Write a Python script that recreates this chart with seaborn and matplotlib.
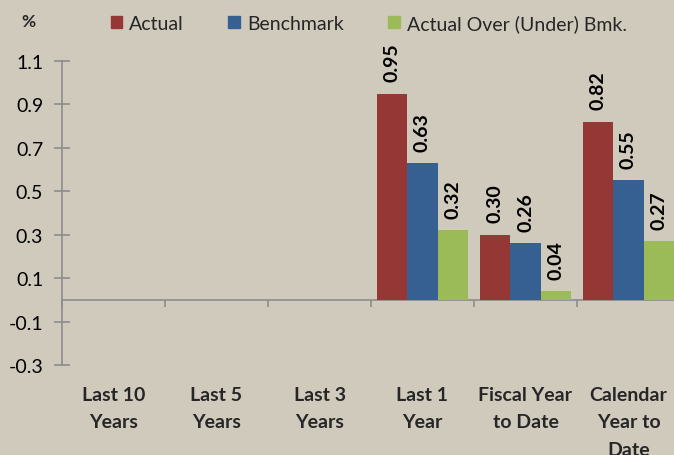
import numpy as np
import pandas as pd
import matplotlib
matplotlib.use("Agg")
import matplotlib.pyplot as plt
import seaborn as sns

# ---------------------------------------------------------------------------
# Data
# ---------------------------------------------------------------------------
categories = ["Last 10\nYears", "Last 5\nYears", "Last 3\nYears", "Last 1\nYear",
              "Fiscal Year\nto Date", "Calendar\nYear to\nDate"]
series = ["Actual", "Benchmark", "Actual Over (Under) Bmk."]
actual = [np.nan, np.nan, np.nan, 0.95, 0.30, 0.82]
benchmark = [np.nan, np.nan, np.nan, 0.63, 0.26, 0.55]
over_under = [np.nan, np.nan, np.nan, 0.32, 0.04, 0.27]
y_ticks = [-0.3, -0.1, 0.1, 0.3, 0.5, 0.7, 0.9, 1.1]

colors = ["#953735", "#376092", "#9BBB59"]
BG = "#D0CABD"
AXIS_GRAY = "#8C8C8C"

df = pd.DataFrame({
    "category": categories * 3,
    "series": [s for s in series for _ in categories],
    "value": actual + benchmark + over_under,
}).dropna()

# ---------------------------------------------------------------------------
# Plot
# ---------------------------------------------------------------------------
sns.set_theme(style="white")
plt.rcParams["font.family"] = ["Lato", "DejaVu Sans"]
plt.rcParams["ytick.left"] = True
plt.rcParams["ytick.direction"] = "inout"
plt.rcParams["ytick.major.size"] = 11
plt.rcParams["ytick.major.width"] = 1.2
plt.rcParams["ytick.color"] = AXIS_GRAY

fig = plt.figure(figsize=(6.74, 4.56), dpi=100, facecolor=BG)
ax = fig.add_axes([62 / 674, 90 / 456, 618 / 674, 304 / 456])
ax.set_facecolor(BG)

sns.barplot(data=df, x="category", y="value", hue="series", order=categories,
            hue_order=series, palette=colors, width=0.88, saturation=1,
            edgecolor="none", ax=ax, legend=True)

for cont in ax.containers:
    ax.bar_label(cont, fmt="%.2f", rotation=90, padding=9, fontsize=14,
                 fontweight="bold", color="black", clip_on=False)

ax.set_xlim(-0.5, len(categories) - 0.5)
ax.set_ylim(-0.3, 1.1)
ax.set_yticks(y_ticks)
ax.set_yticklabels([f"{t:.1f}" for t in y_ticks], fontsize=14)
ax.tick_params(axis="y", left=True, direction="inout", length=11, width=1.2,
               color=AXIS_GRAY, labelcolor="black", pad=8)
ax.tick_params(axis="x", bottom=False, length=0, pad=15, labelsize=14)
for lbl in ax.get_xticklabels():
    lbl.set_fontweight("bold")
    lbl.set_linespacing(1.75)
    lbl.set_verticalalignment("top")
ax.set_xlabel("")
ax.set_ylabel("")

for side in ["top", "right", "bottom"]:
    ax.spines[side].set_visible(False)
ax.spines["left"].set_color(AXIS_GRAY)
ax.spines["left"].set_linewidth(1.2)

# zero line with category dividers
zero_loc = (0 - y_ticks[0]) / (y_ticks[-1] - y_ticks[0])
sec = ax.secondary_xaxis(zero_loc)
sec.set_xticks(np.arange(len(categories) + 1) - 0.5)
sec.tick_params(bottom=True, direction="out", length=5, width=1.2,
                color=AXIS_GRAY, labelbottom=False)
sec.spines["bottom"].set_color(AXIS_GRAY)
sec.spines["bottom"].set_linewidth(1.2)

ax.legend_.remove()
handles = [plt.Rectangle((0, 0), 1, 1, color=c) for c in colors]
fig.legend(handles, series, loc="upper left", bbox_to_anchor=(93 / 674, 1.005),
           ncol=3, frameon=False, fontsize=14, handlelength=0.6,
           handleheight=0.6, handletextpad=0.35, columnspacing=2.3)

fig.text(28 / 674, 1 - 22 / 456, "%", fontsize=12.5, fontweight="bold",
         ha="center", va="center")

fig.savefig("out.png", dpi=100, facecolor=BG)
